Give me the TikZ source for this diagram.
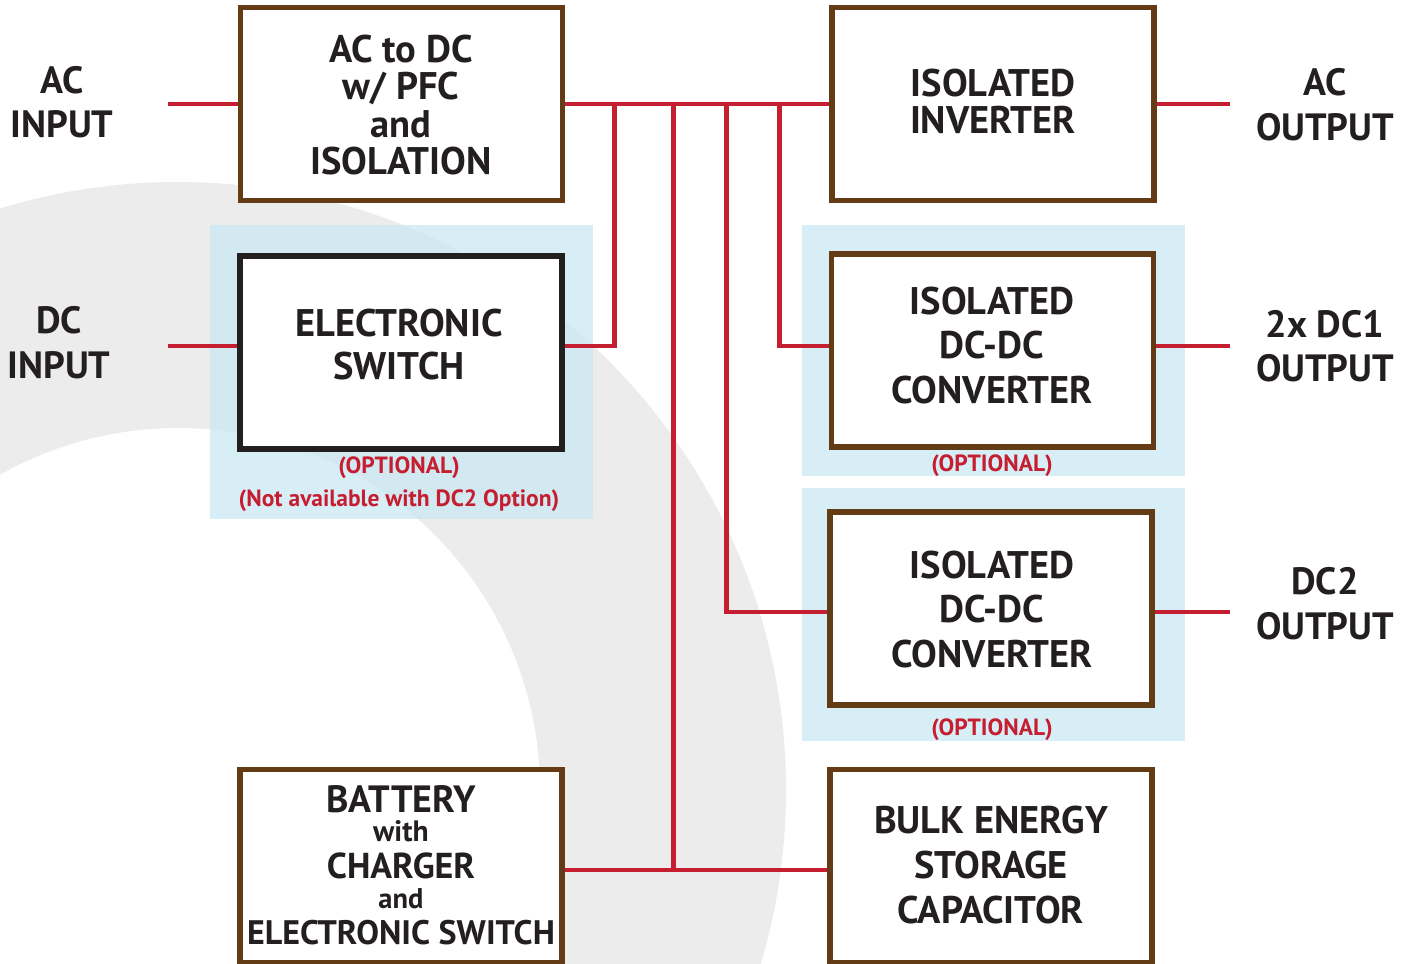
\documentclass[tikz,border=0pt]{standalone}
\usepackage{fontspec}
\setmainfont{PT Sans}
\newfontfamily\boxf{PT Sans}
\definecolor{wirec}{RGB}{197,30,48}
\definecolor{brownb}{RGB}{99,59,21}
\definecolor{ink}{RGB}{35,31,32}
\definecolor{ringc}{RGB}{236,236,236}
\definecolor{optbg}{RGB}{200,232,245}
\begin{document}
\begin{tikzpicture}[x=1pt,y=-1pt,
  blk/.style={draw=brownb, line width=3.6pt, fill=white, minimum width=320.4pt, minimum height=191pt, inner sep=0pt},
  blkk/.style={blk, draw=ink},
  wire/.style={draw=wirec, line width=4.5pt},
  bgbox/.style={fill=optbg, fill opacity=0.7},
  btxt/.style={font=\boxf\bfseries\fontsize{38.5}{#1}\selectfont, text=ink, align=center, inner sep=0pt},
  lab/.style={font=\bfseries\fontsize{38}{#1}\selectfont, text=ink, align=center, inner sep=0pt},
  opt/.style={font=\bfseries\fontsize{23.5}{28}\selectfont, text=wirec, align=center, inner sep=0pt}
]
\useasboundingbox (0,0) rectangle (1414,964);
\fill[white] (0,0) rectangle (1414,964);
\begin{scope}
  \clip (0,0) rectangle (1414,964);
  \fill[ringc, even odd rule] (178,790) circle[radius=608] (178,790) circle[radius=362];
\end{scope}
% optional backgrounds
\fill[bgbox] (210,225) rectangle (593,519);
\fill[bgbox] (802,225) rectangle (1185,476);
\fill[bgbox] (802,488) rectangle (1185,741);
% boxes
\node[blk] (acdc) at (401.5,104) {};
\node[blk] (inv) at (993,104) {};
\node[blkk] (sw) at (401,352.5) {};
\node[blk] (dc1) at (992.5,350.5) {};
\node[blk] (dc2) at (991,608.5) {};
\node[blk] (bat) at (401,866) {};
\node[blk] (bulk) at (991,866) {};
% wire coordinates
\coordinate (acin) at (168,104);
\coordinate (dcin) at (168,346);
\coordinate (acout) at (1230,104);
\coordinate (dc1out) at (1230,346);
\coordinate (dc2out) at (1230,612);
\coordinate (j1) at (614.5,104);
\coordinate (j2) at (673.5,104);
\coordinate (j3) at (726.5,104);
\coordinate (j4) at (779.5,104);
\coordinate (bl) at (0,870);
% wires
\draw[wire] (acin) -- (acdc.west);
\draw[wire] (acdc.east) -- (inv.west);
\draw[wire] (inv.east) -- (acout);
\draw[wire] (dcin) -- (dcin -| sw.west);
\draw[wire] (j1) |- (dcin -| sw.east);
\draw[wire] (j4) |- (dcin -| dc1.west);
\draw[wire] (dcin -| dc1.east) -- (dc1out);
\draw[wire] (j3) |- (dc2out -| dc2.west);
\draw[wire] (dc2out -| dc2.east) -- (dc2out);
\draw[wire] (bl -| bat.east) -- (bl -| bulk.west);
\draw[wire] (j2) -- (j2 |- bl);
% redraw box borders on top of wire ends
\foreach \b in {acdc,inv,dc1,dc2,bat,bulk}{\draw[brownb, line width=3.6pt] (\b.north west) rectangle (\b.south east);}
\draw[ink, line width=3.6pt] (sw.north west) rectangle (sw.south east);
% box texts
\node[btxt=37.3] (tacdc) at (401,105) {AC to DC\\w/ PFC\\and\\ISOLATION};
\node[btxt=37] (tinv) at (993,101.5) {ISOLATED\\INVERTER};
\node[btxt=43] (tsw) at (399,344.5) {ELECTRONIC\\SWITCH};
\node[btxt=44.5] (tdc1) at (992,345.5) {ISOLATED\\DC-DC\\CONVERTER};
\node[btxt=44.5] (tdc2) at (992,609.5) {ISOLATED\\DC-DC\\CONVERTER};
\node[btxt=45] (tbulk) at (991,865) {BULK ENERGY\\STORAGE\\CAPACITOR};
\node[btxt=40, font=\boxf\bfseries\fontsize{38}{40}\selectfont] (tb1) at (401,799) {BATTERY};
\node[btxt=30, font=\boxf\bfseries\fontsize{29.5}{30}\selectfont] (tb2) at (401,831.5) {with};
\node[btxt=40, font=\boxf\bfseries\fontsize{36}{40}\selectfont] (tb3) at (401,866) {CHARGER};
\node[btxt=30, font=\boxf\bfseries\fontsize{28.5}{30}\selectfont] (tb4) at (401,899) {and};
\node[btxt=40, font=\boxf\bfseries\fontsize{34}{40}\selectfont] (tb5) at (401,933) {ELECTRONIC SWITCH};
% side labels
\node[lab=44] (lacin) at (62,102) {AC\\INPUT};
\node[lab=45] (ldcin) at (59,342.5) {DC\\INPUT};
\node[lab=45] (lacout) at (1325,104.5) {AC\\OUTPUT};
\node[lab=44] (ldc1out) at (1325,346) {2x DC1\\OUTPUT};
\node[lab=45] (ldc2out) at (1325,603.5) {DC2\\OUTPUT};
% optional notes
\node[opt] (osw) at (399,468) {(OPTIONAL)};
\node[opt] (onote) at (399,501) {(Not available with DC2 Option)};
\node[opt] (odc1) at (992,466) {(OPTIONAL)};
\node[opt] (odc2) at (992,730) {(OPTIONAL)};
\end{tikzpicture}
\end{document}
